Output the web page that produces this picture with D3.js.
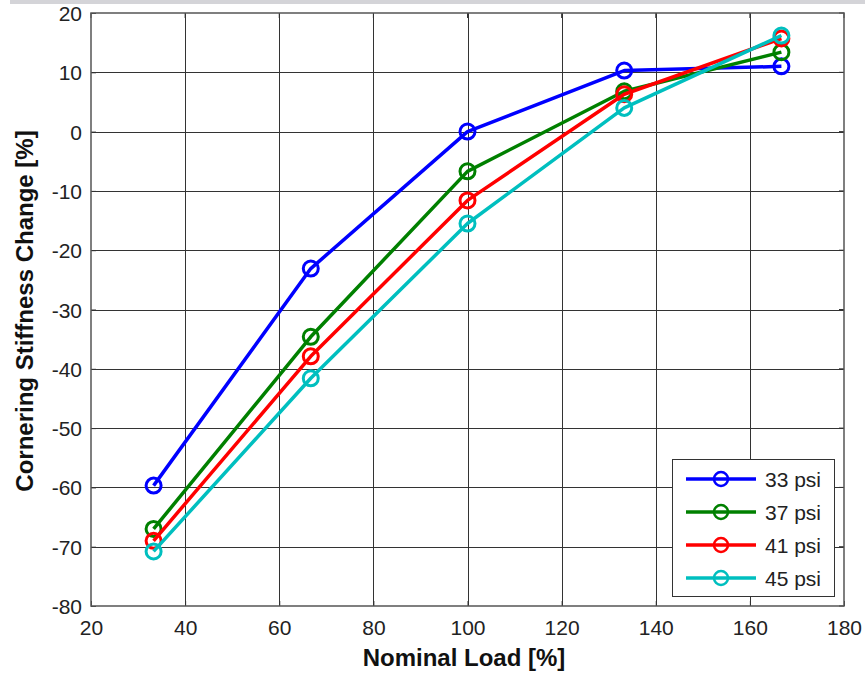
<!DOCTYPE html>
<meta charset="utf-8">
<style>
    body { margin: 0; background: #fff; }
    svg { display: block; }
</style>
<svg width="865" height="673" font-family="Liberation Sans, Arial, sans-serif"></svg>
<script src="https://cdn.jsdelivr.net/npm/d3@7"></script>
<script>
    // nominal load [%]
    var loads = [33.3, 66.7, 100, 133.3, 166.7];
    var psi33 = [-59.7, -23.1, 0.0, 10.3, 11.0];
    var psi37 = [-67.0, -34.6, -6.7, 6.8, 13.4];
    var psi41 = [-69.0, -37.9, -11.6, 6.3, 15.7];
    var psi45 = [-70.8, -41.6, -15.5, 4.0, 16.2];
    var seriesNames = ["33 psi", "37 psi", "41 psi", "45 psi"];
    var seriesColors = ["#0000ff", "#008000", "#ff0000", "#00bfbf"];
    var xTicks = [20, 40, 60, 80, 100, 120, 140, 160, 180];
    var yTicks = [-80, -70, -60, -50, -40, -30, -20, -10, 0, 10, 20];

    var series = [psi33, psi37, psi41, psi45];

    var svg = d3.select("svg");
    var pLeft = 91, pRight = 844, pTop = 13, pBottom = 606;

    // the grey strip at the very top of the screenshot
    svg.append("rect").attr("x", 10).attr("y", 0).attr("width", 855).attr("height", 4).attr("fill", "#d4d4d8");

    var x = d3.scaleLinear().domain([20, 180]).range([pLeft, pRight]);
    var y = d3.scaleLinear().domain([-80, 20]).range([pBottom, pTop]);

    // grid
    var grid = svg.append("g").attr("stroke", "#333").attr("stroke-width", 1);
    grid.selectAll(".vx").data(xTicks.slice(1, -1)).enter().append("line")
        .attr("x1", function (d) { return Math.round(x(d)) + 0.5; })
        .attr("x2", function (d) { return Math.round(x(d)) + 0.5; })
        .attr("y1", pTop).attr("y2", pBottom);
    grid.selectAll(".hy").data(yTicks.slice(1, -1)).enter().append("line")
        .attr("y1", function (d) { return Math.round(y(d)) + 0.5; })
        .attr("y2", function (d) { return Math.round(y(d)) + 0.5; })
        .attr("x1", pLeft).attr("x2", pRight);

    // axes, ticks drawn inward; plain hyphen for negatives like the original
    var fmt = function (d) { return String(d); };
    var xAxis = d3.axisBottom(x).tickValues(xTicks).tickFormat(fmt).tickSize(-5).tickPadding(14).tickSizeOuter(0);
    var yAxis = d3.axisLeft(y).tickValues(yTicks).tickFormat(fmt).tickSize(-5).tickPadding(9).tickSizeOuter(0);

    var gx = svg.append("g").attr("transform", "translate(0," + pBottom + ")").call(xAxis);
    var gy = svg.append("g").attr("transform", "translate(" + pLeft + ",0)").call(yAxis);
    [gx, gy].forEach(function (g) {
        g.select(".domain").remove();
        g.selectAll("line").attr("stroke", "#333");
        g.selectAll("text").attr("font-size", 21).attr("fill", "#222").attr("font-family", "Liberation Sans, Arial, sans-serif");
    });
    gx.selectAll("text").attr("dy", "0.71em");
    gy.selectAll("text").attr("dy", "0.36em");

    // top/right ticks
    svg.append("g").selectAll("line").data(xTicks).enter().append("line")
        .attr("x1", function (d) { return x(d); }).attr("x2", function (d) { return x(d); })
        .attr("y1", pTop).attr("y2", pTop + 5).attr("stroke", "#333");
    svg.append("g").selectAll("line").data(yTicks).enter().append("line")
        .attr("y1", function (d) { return y(d); }).attr("y2", function (d) { return y(d); })
        .attr("x1", pRight).attr("x2", pRight - 5).attr("stroke", "#333");

    // frame
    svg.append("rect").attr("x", pLeft).attr("y", pTop).attr("width", pRight - pLeft).attr("height", pBottom - pTop)
        .attr("fill", "none").attr("stroke", "#555").attr("stroke-width", 1.5);

    // series
    var line = d3.line().x(function (d, i) { return x(loads[i]); }).y(function (d) { return y(d); });
    series.forEach(function (s, k) {
        var g = svg.append("g");
        g.append("path").attr("d", line(s)).attr("fill", "none")
            .attr("stroke", seriesColors[k]).attr("stroke-width", 3.5).attr("stroke-linejoin", "round");
        g.selectAll("circle").data(s).enter().append("circle")
            .attr("cx", function (d, i) { return x(loads[i]); })
            .attr("cy", function (d) { return y(d); })
            .attr("r", 7.5).attr("fill", "none")
            .attr("stroke", seriesColors[k]).attr("stroke-width", 3);
    });

    // axis titles
    svg.append("text").attr("x", 464).attr("y", 666).attr("text-anchor", "middle")
        .attr("font-size", 24).attr("font-weight", "bold").attr("fill", "#111").text("Nominal Load [%]");
    svg.append("text").attr("transform", "translate(33,311)rotate(-90)")
        .attr("text-anchor", "middle").attr("font-size", 24).attr("font-weight", "bold").attr("fill", "#111")
        .text("Cornering Stiffness Change [%]");

    // legend
    var legend = svg.append("g");
    legend.append("rect").attr("x", 672.5).attr("y", 459.5).attr("width", 162).attr("height", 137)
        .attr("fill", "#fff").attr("stroke", "#333").attr("stroke-width", 1);
    var item = legend.selectAll(".item").data(seriesNames).enter().append("g")
        .attr("transform", function (d, i) { return "translate(0," + (479 + i * 33) + ")"; });
    item.append("line").attr("x1", 686).attr("x2", 756)
        .attr("stroke", function (d, i) { return seriesColors[i]; }).attr("stroke-width", 3.5);
    item.append("circle").attr("cx", 721).attr("r", 7).attr("fill", "none")
        .attr("stroke", function (d, i) { return seriesColors[i]; }).attr("stroke-width", 2.5);
    item.append("text").attr("x", 765).attr("dy", "0.36em").attr("font-size", 21).attr("fill", "#222")
        .text(function (d) { return d; });
</script>
